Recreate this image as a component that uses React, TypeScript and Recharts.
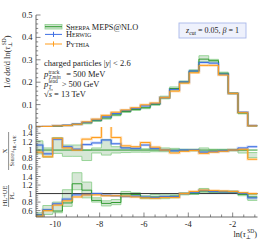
import React from 'react';
import { ComposedChart, Line, Area, XAxis, YAxis, ReferenceLine } from 'recharts';

// ---- data ----
const binEdges = [-11.0, -10.56, -10.12, -9.68, -9.24, -8.8, -8.36, -7.92, -7.48, -7.04, -6.6, -6.16, -5.72, -5.28, -4.84, -4.4, -3.96, -3.52, -3.08, -2.64, -2.2, -1.76, -1.32, -0.88];

const sherpaMain = [0.001, 0.002, 0.004, 0.007, 0.012, 0.019, 0.028, 0.040, 0.054, 0.069, 0.078, 0.086, 0.101, 0.131, 0.172, 0.201, 0.250, 0.303, 0.296, 0.240, 0.150, 0.063, 0.006];
const herwigMain = [0.001, 0.002, 0.005, 0.008, 0.013, 0.021, 0.032, 0.045, 0.060, 0.073, 0.082, 0.094, 0.104, 0.131, 0.168, 0.201, 0.250, 0.288, 0.285, 0.236, 0.150, 0.066, 0.006];
const pythiaMain = [0.001, 0.002, 0.005, 0.007, 0.012, 0.023, 0.035, 0.052, 0.066, 0.076, 0.086, 0.099, 0.107, 0.131, 0.160, 0.196, 0.242, 0.275, 0.275, 0.232, 0.150, 0.064, 0.005];

// ratio to Sherpa HL+UE
const r1Herwig = [1.12, 0.91, 1.26, 1.08, 1.02, 1.13, 1.17, 1.24, 1.15, 1.05, 1.04, 1.12, 1.04, 1.00, 0.98, 1.00, 1.00, 0.95, 0.96, 0.98, 1.00, 1.05, 1.08];
const r1Pythia = [0.95, 0.84, 1.28, 1.05, 1.00, 1.26, 1.30, 1.65, 1.30, 1.10, 1.08, 1.18, 1.07, 1.00, 0.93, 0.97, 0.99, 0.92, 0.95, 0.97, 1.00, 1.02, 0.78];
const r1SherpaLo = [0.91, 0.83, 0.92, 0.85, 0.85, 0.75, 0.93, 0.88, 0.93, 0.94, 0.95, 0.95, 0.96, 0.96, 0.96, 0.98, 0.98, 0.96, 0.98, 0.98, 0.98, 0.93, 0.82];
const r1SherpaHi = [1.22, 1.05, 1.30, 1.12, 1.12, 1.00, 1.05, 1.25, 1.08, 1.06, 1.04, 1.03, 1.03, 1.05, 1.04, 1.02, 1.02, 1.05, 1.02, 1.02, 1.02, 1.00, 0.94];

// ratio HL+UE / PL
const r2Sherpa = [0.50, 0.61, 0.59, 0.78, 1.23, 1.08, 0.84, 0.77, 0.79, 0.99, 0.98, 0.91, 0.92, 0.93, 0.94, 1.00, 1.00, 1.06, 1.04, 1.04, 1.04, 0.98, 0.92];
const r2SherpaLo = [0.45, 0.51, 0.55, 0.70, 1.09, 0.90, 0.80, 0.71, 0.74, 0.94, 0.94, 0.88, 0.88, 0.88, 0.90, 0.97, 0.98, 1.02, 1.02, 1.02, 1.02, 0.95, 0.84];
const r2SherpaHi = [0.55, 0.72, 0.80, 1.09, 1.49, 1.27, 0.90, 0.83, 0.86, 1.05, 1.02, 0.95, 0.98, 0.97, 0.97, 1.02, 1.02, 1.12, 1.06, 1.06, 1.06, 1.02, 0.98];
const r2Herwig = [0.50, 0.62, 0.76, 0.87, 0.97, 0.98, 1.00, 0.96, 0.95, 0.93, 0.94, 0.92, 0.91, 0.93, 0.93, 1.00, 1.02, 1.07, 1.05, 1.04, 1.04, 1.00, 0.90];
const r2Pythia = [0.47, 0.60, 0.73, 0.83, 0.92, 0.97, 0.97, 0.95, 0.95, 0.94, 0.92, 0.90, 0.89, 0.91, 0.91, 1.00, 1.05, 1.08, 1.07, 1.06, 1.05, 1.02, 1.00];

// ticks
const xDomain = [-10.87, -0.88];
const xTicks = [-10.5, -10, -9.5, -9, -8.5, -8, -7.5, -7, -6.5, -6, -5.5, -5, -4.5, -4, -3.5, -3, -2.5, -2, -1.5, -1];
const xMajor = [-10, -8, -6, -4, -2];
const mainYTicks = [0, 0.02, 0.04, 0.06, 0.08, 0.1, 0.12, 0.14, 0.16, 0.18, 0.2, 0.22, 0.24, 0.26, 0.28, 0.3, 0.32, 0.34, 0.36, 0.38, 0.4, 0.42, 0.44, 0.46, 0.48, 0.5];
const mainYMajor = [0, 0.1, 0.2, 0.3, 0.4, 0.5];
const ratioYTicks = [0.5, 0.55, 0.6, 0.65, 0.7, 0.75, 0.8, 0.85, 0.9, 0.95, 1, 1.05, 1.1, 1.15, 1.2, 1.25, 1.3, 1.35, 1.4, 1.45, 1.5];
const ratioYMajor = [0.6, 0.8, 1, 1.2, 1.4];

// ---- styles ----
const FONT = '"Liberation Serif", "DejaVu Serif", serif';
const GREEN = '#2f9a2f';
const GREEN_FILL = '#cfe3cf';
const GREEN_EDGE = '#8fd08f';
const BLUE = '#3f6fe4';
const ORANGE = '#ff9d1c';
const FRAME = '#444';
const TICK = '#555';

const at = (arr: number[], k: number) => arr[Math.min(k, arr.length - 1)];

const mainRows = binEdges.map((x, k) => ({
  x,
  s: at(sherpaMain, k),
  h: at(herwigMain, k),
  p: at(pythiaMain, k),
  band: [at(sherpaMain, k) * at(r1SherpaLo, k), at(sherpaMain, k) * at(r1SherpaHi, k)],
}));
const r1Rows = binEdges.map((x, k) => ({
  x,
  h: at(r1Herwig, k),
  p: at(r1Pythia, k),
  band: [at(r1SherpaLo, k), at(r1SherpaHi, k)],
}));
const r2Rows = binEdges.map((x, k) => ({
  x,
  s: at(r2Sherpa, k),
  h: at(r2Herwig, k),
  p: at(r2Pythia, k),
  band: [at(r2SherpaLo, k), at(r2SherpaHi, k)],
}));

const isIn = (list: number[], v: number) => list.some((m) => Math.abs(m - v) < 1e-6);

const makeXTick = (side: 'top' | 'bottom', labels: boolean) => (props: any) => {
  const { x, y, payload } = props;
  const v = payload.value;
  const major = isIn(xMajor, v);
  const len = major ? 4.5 : 2.5;
  const dir = side === 'bottom' ? -1 : 1;
  return (
    <g>
      <line x1={x} x2={x} y1={y} y2={y + dir * len} stroke={TICK} strokeWidth={0.7} />
      {labels && major ? (
        <text x={x} y={y + 10} textAnchor="middle" fontSize={8.5} fontFamily={FONT} fill="#222">
          {String(v)}
        </text>
      ) : null}
    </g>
  );
};

const makeYTick = (side: 'left' | 'right', majors: number[], fmt: (v: number) => string) => (props: any) => {
  const { x, y, payload } = props;
  const v = payload.value;
  const major = isIn(majors, v);
  const len = major ? 4.5 : 2.2;
  const dir = side === 'left' ? 1 : -1;
  return (
    <g>
      <line x1={x} x2={x + dir * len} y1={y} y2={y} stroke={TICK} strokeWidth={0.7} />
      {side === 'left' && major ? (
        <text x={x - 3.5} y={y + 3} textAnchor="end" fontSize={8.5} fontFamily={FONT} fill="#222">
          {fmt(v)}
        </text>
      ) : null}
    </g>
  );
};

const fmtMain = (v: number) => (Math.abs(v) < 1e-9 ? '0' : v.toFixed(1));
const fmtRatio = (v: number) => (Math.abs(v - 1) < 1e-9 ? '1' : v.toFixed(1));

const axisLine = { stroke: FRAME, strokeWidth: 0.8 };

function axes(yDomain: number[], yTicks: number[], yMajors: number[], fmt: (v: number) => string, xLabels: boolean) {
  return [
    <XAxis key="xb" xAxisId={0} dataKey="x" type="number" domain={xDomain} allowDataOverflow ticks={xTicks} interval={0}
      tickLine={false} tickSize={0} tickMargin={0} axisLine={axisLine} height={xLabels ? 14 : 0} tick={makeXTick('bottom', xLabels)} />,
    <XAxis key="xt" xAxisId="top" orientation="top" dataKey="x" type="number" domain={xDomain} allowDataOverflow ticks={xTicks} interval={0}
      tickLine={false} tickSize={0} tickMargin={0} axisLine={axisLine} height={0} tick={makeXTick('top', false)} />,
    <YAxis key="yl" yAxisId={0} type="number" domain={yDomain} allowDataOverflow ticks={yTicks} interval={0}
      tickLine={false} tickSize={0} tickMargin={0} axisLine={axisLine} width={36} tick={makeYTick('left', yMajors, fmt)} />,
    <YAxis key="yr" yAxisId="right" orientation="right" type="number" domain={yDomain} allowDataOverflow ticks={yTicks} interval={0}
      tickLine={false} tickSize={0} tickMargin={0} axisLine={axisLine} width={0} tick={makeYTick('right', yMajors, fmt)} />,
  ];
}

const bandArea = (
  <Area dataKey="band" type="stepAfter" fill={GREEN_FILL} fillOpacity={0.85} stroke={GREEN_EDGE} strokeWidth={0.9} isAnimationActive={false} dot={false} activeDot={false} />
);

const seriesLine = (key: string, color: string, width = 1) => (
  <Line key={key + color + width} dataKey={key} type="stepAfter" stroke={color} strokeWidth={width} strokeOpacity={width > 1.5 ? 0.3 : 1} dot={false} activeDot={false} isAnimationActive={false} />
);

export default function App() {
  return (
    <div style={{ position: 'absolute', left: 0, top: 0, width: 266, height: 240, background: '#fff', fontFamily: FONT }}>
      <div style={{ position: 'absolute', left: 0, top: 127 }}>
        <ComposedChart width={266} height={44} data={r1Rows} margin={{ top: 0, right: 8.5, bottom: 0, left: 0 }}>
          {axes([0.5, 1.55], ratioYTicks, ratioYMajor, fmtRatio, false)}
          {bandArea}
          <ReferenceLine y={1} stroke={GREEN} strokeWidth={1} />
          {seriesLine('h', BLUE, 2.6)}
          {seriesLine('p', ORANGE, 2.6)}
          {seriesLine('h', BLUE)}
          {seriesLine('p', ORANGE)}
        </ComposedChart>
      </div>
      <div style={{ position: 'absolute', left: 0, top: 171 }}>
        <ComposedChart width={266} height={60} data={r2Rows} margin={{ top: 0, right: 8.5, bottom: 0, left: 0 }}>
          {axes([0.45, 1.53], ratioYTicks, ratioYMajor, fmtRatio, true)}
          <ReferenceLine y={1} stroke="#333" strokeWidth={1} />
          {bandArea}
          {seriesLine('h', BLUE, 2.6)}
          {seriesLine('p', ORANGE, 2.6)}
          {seriesLine('s', GREEN)}
          {seriesLine('h', BLUE)}
          {seriesLine('p', ORANGE)}
        </ComposedChart>
      </div>
      <div style={{ position: 'absolute', left: 0, top: 0 }}>
        <ComposedChart width={266} height={132} data={mainRows} margin={{ top: 15, right: 8.5, bottom: 5, left: 0 }}>
          {axes([0, 0.5], mainYTicks, mainYMajor, fmtMain, false)}
          {bandArea}
          {seriesLine('h', BLUE, 2.6)}
          {seriesLine('p', ORANGE, 2.6)}
          {seriesLine('s', GREEN)}
          {seriesLine('h', BLUE)}
          {seriesLine('p', ORANGE)}
        </ComposedChart>
      </div>
      <svg width={266} height={240} style={{ position: 'absolute', left: 0, top: 0, pointerEvents: 'none' }} fontFamily={FONT} fill="#222">
        {/* legend */}
        <rect x={45} y={24.4} width={17} height={4.6} fill={GREEN_FILL} stroke={GREEN_EDGE} strokeWidth={0.8} />
        <line x1={45} x2={62} y1={26.7} y2={26.7} stroke={GREEN} strokeWidth={1} />
        <text x={66} y={29.6} fontSize={8.3}>
          <tspan style={{ fontVariant: 'small-caps' }}>Sherpa</tspan> MEPS@NLO
        </text>
        <line x1={45} x2={62} y1={34.4} y2={34.4} stroke={BLUE} strokeWidth={1} />
        <line x1={53.5} x2={53.5} y1={31.8} y2={37} stroke={BLUE} strokeWidth={1} />
        <text x={66} y={37.2} fontSize={8.3} style={{ fontVariant: 'small-caps' }}>Herwig</text>
        <line x1={45} x2={62} y1={44} y2={44} stroke={ORANGE} strokeWidth={1} />
        <line x1={53.5} x2={53.5} y1={41.4} y2={46.6} stroke={ORANGE} strokeWidth={1} />
        <text x={66} y={46.8} fontSize={8.3} style={{ fontVariant: 'small-caps' }}>Pythia</text>

        {/* process text */}
        <text x={44} y={65.5} fontSize={8.5}>
          charged particles |<tspan fontStyle="italic">y</tspan>| &lt; 2.6
        </text>
        <text x={44} y={77.3} fontSize={8.5}>
          <tspan fontStyle="italic">p</tspan>
          <tspan x={48.6} y={73.6} fontSize={5.4}>track</tspan>
          <tspan x={48.6} y={79.4} fontSize={5.4} fontStyle="italic">T,min</tspan>
          <tspan x={64} y={77.3}> = 500 MeV</tspan>
        </text>
        <text x={44} y={86.8} fontSize={8.5}>
          <tspan fontStyle="italic">p</tspan>
          <tspan x={48.6} y={83.3} fontSize={5.4}>lead</tspan>
          <tspan x={48.6} y={88.9} fontSize={5.4} fontStyle="italic">T</tspan>
          <tspan x={59.5} y={86.8}> &gt; 500 GeV</tspan>
        </text>
        <text x={44} y={96.8} fontSize={8.5}>
          √<tspan fontStyle="italic">s</tspan> = 13 TeV
        </text>
        <line x1={49.3} x2={53} y1={89.9} y2={89.9} stroke="#222" strokeWidth={0.5} />

        {/* annotation box */}
        <rect x={179} y={23} width={67} height={15} fill="#eef1fc" stroke="#a9b8ea" strokeWidth={0.9} />
        <text x={212.5} y={33.3} fontSize={8} textAnchor="middle">
          <tspan fontStyle="italic">z</tspan>
          <tspan fontSize={5.5} dy={1.5}>cut</tspan>
          <tspan dy={-1.5}> = 0.05, </tspan>
          <tspan fontStyle="italic">β</tspan> = 1
        </text>

        {/* y labels */}
        <text transform="translate(10,62) rotate(-90)" textAnchor="middle" fontSize={8.3}>
          1/<tspan fontStyle="italic">σ</tspan> d<tspan fontStyle="italic">σ</tspan>/d ln(<tspan fontStyle="italic">τ</tspan>
          <tspan fontSize={5.4} dy={2}>⊥</tspan>
          <tspan fontSize={5.4} dx={-3.4} dy={-5.6}>SD</tspan>
          <tspan dy={3.6}>)</tspan>
        </text>
        <g transform="translate(9,151) rotate(-90)">
          <text x={0} y={-2.2} textAnchor="middle" fontSize={6.8}>X</text>
          <line x1={-19} x2={19} y1={-0.4} y2={-0.4} stroke="#222" strokeWidth={0.5} />
          <text x={0} y={5.4} textAnchor="middle" fontSize={6.2}>
            <tspan style={{ fontVariant: 'small-caps' }}>Sherpa</tspan>
            <tspan fontSize={4.6} dy={1.2}>HL+UE</tspan>
          </text>
        </g>
        <g transform="translate(9,196) rotate(-90)">
          <text x={0} y={-2.2} textAnchor="middle" fontSize={6.4}>HL+UE</text>
          <line x1={-11} x2={11} y1={-0.4} y2={-0.4} stroke="#222" strokeWidth={0.5} />
          <text x={0} y={5.4} textAnchor="middle" fontSize={6.4}>PL</text>
        </g>

        {/* x label */}
        <text x={257} y={237} textAnchor="end" fontSize={8.3}>
          ln(<tspan fontStyle="italic">τ</tspan>
          <tspan fontSize={5.4} dy={2}>⊥</tspan>
          <tspan fontSize={5.4} dx={-3.4} dy={-5.6}>SD</tspan>
          <tspan dy={3.6}>)</tspan>
        </text>
      </svg>
    </div>
  );
}
